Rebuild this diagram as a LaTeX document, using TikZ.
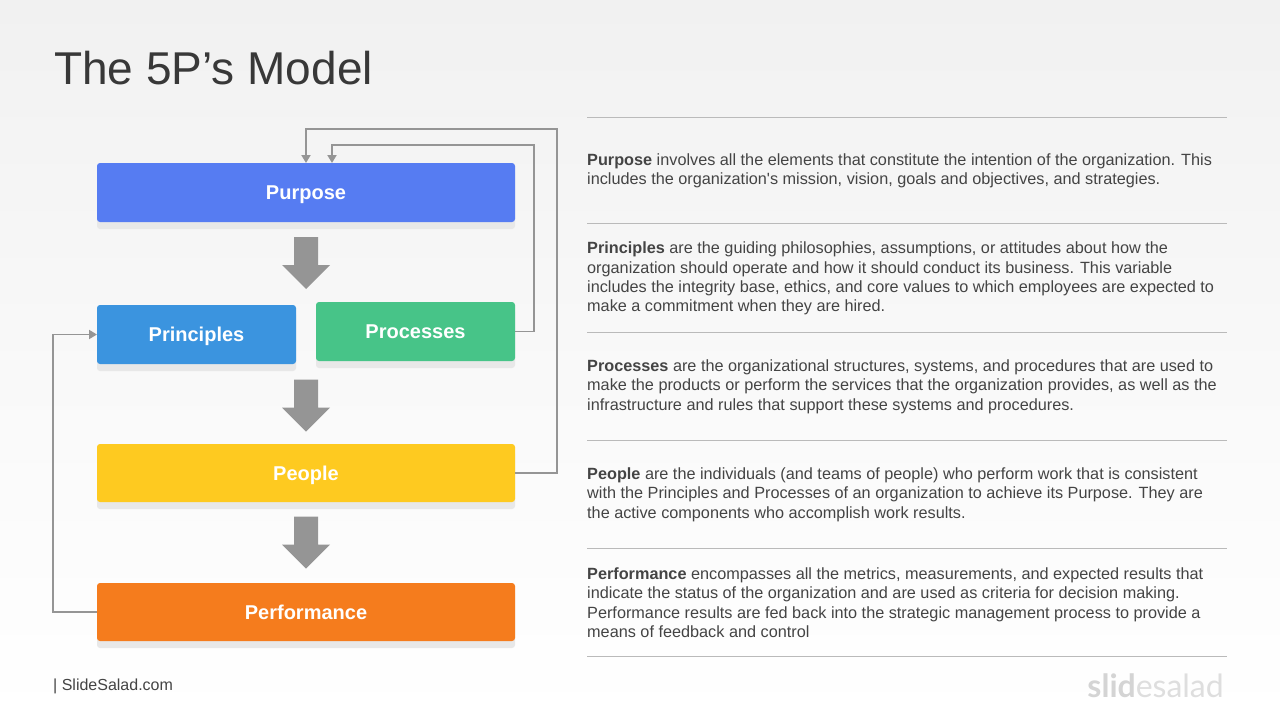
\documentclass[tikz,border=0pt]{standalone}
\usepackage{fontspec}
\setmainfont{Liberation Sans}
\newfontfamily\notefont{Liberation Sans}[Mapping=,Ligatures=NoCommon]
\newfontfamily\logofont{Lato}
\usetikzlibrary{arrows.meta,shadows}
\definecolor{purposeblue}{HTML}{567CF2}
\definecolor{principleblue}{HTML}{3B94DF}
\definecolor{processgreen}{HTML}{47C488}
\definecolor{peopleyellow}{HTML}{FECA20}
\definecolor{performanceorange}{HTML}{F57C1D}
\definecolor{pagetop}{HTML}{F1F1F1}
\definecolor{bodytext}{HTML}{444444}
\definecolor{arrowgray}{HTML}{959595}
\tikzset{
  stagebox/.style={rectangle, rounded corners=3pt, minimum height=59pt, text=white,
                   inner sep=0pt, outer sep=0pt, anchor=center,
                   text height=14.5pt, text depth=0pt,
                   font=\fontsize{20}{24}\selectfont\bfseries,
                   general shadow={fill=black!9, shadow xshift=0pt, shadow yshift=-7pt}},
  flowarrow/.pic={\fill [arrowgray] (-12,0) -- (-12,28) -- (-24,28) -- (0,52) -- (24,28) -- (12,28) -- (12,0) -- cycle;},
  feedback/.style={draw=arrowgray, line width=1.9pt, -{Triangle[length=8pt,width=9pt]}},
  ruleline/.style={draw=black!27, line width=0.8pt},
  note/.style={anchor=west, align=left, inner sep=0pt, text=bodytext,
               font=\notefont\fontsize{16.25}{19.4}\selectfont},
}
\begin{document}
\begin{tikzpicture}[x=1pt,y=-1pt]
\shade[top color=pagetop, bottom color=white, middle color=pagetop!45] (0,0) rectangle (1280,720);
\useasboundingbox (0,0) rectangle (1280,720);

\node [anchor=west, inner sep=0pt, text=black!78, font=\fontsize{46}{50}\selectfont] (title) at (54,68) {The 5P’s Model};

\node [stagebox, fill=purposeblue, minimum width=418pt] (purpose) at (306,192.5) {Purpose};
\node [stagebox, fill=principleblue, minimum width=199pt] (principles) at (196.5,334.5) {Principles};
\node [stagebox, fill=processgreen, minimum width=199pt] (processes) at (415.5,331.5) {Processes};
\node [stagebox, fill=peopleyellow, minimum width=418pt, minimum height=58pt] (people) at (306,473) {People};
\node [stagebox, fill=performanceorange, minimum width=418pt, minimum height=58pt] (performance) at (306,612) {Performance};

\pic (arrowa) at (306,237) {flowarrow};
\pic (arrowb) at (306,379.5) {flowarrow};
\pic (arrowc) at (306,516.5) {flowarrow};

%feedback loops
\coordinate (procturn) at (534,145);
\coordinate (procin) at (332,163);
\coordinate (peopleturn) at (557,129);
\coordinate (perfturn) at (53,334.5);
\draw [feedback] (processes.east) -| (procturn) -| (procin);
\draw [feedback] (people.east) -| (peopleturn) -| (purpose.north);
\draw [feedback] (performance.west) -| (perfturn) -- (principles.west);

\foreach \ypos in {117,223,332,440,548,656}
  \draw [ruleline] (587,\ypos) -- (1227,\ypos);

\node [note] (purposenote) at (587,171) {\textbf{Purpose} involves all the elements that constitute the intention of the organization. This\\
includes the organization's mission, vision, goals and objectives, and strategies.};
\node [note] (principlesnote) at (587,278.5) {\textbf{Principles} are the guiding philosophies, assumptions, or attitudes about how the\\
organization should operate and how it should conduct its business. This variable\\
includes the integrity base, ethics, and core values to which employees are expected to\\
make a commitment when they are hired.};
\node [note] (processesnote) at (587,386.5) {\textbf{Processes} are the organizational structures, systems, and procedures that are used to\\
make the products or perform the services that the organization provides, as well as the\\
infrastructure and rules that support these systems and procedures.};
\node [note] (peoplenote) at (587,494.5) {\textbf{People} are the individuals (and teams of people) who perform work that is consistent\\
with the Principles and Processes of an organization to achieve its Purpose. They are\\
the active components who accomplish work results.};
\node [note] (performancenote) at (587,602.5) {\textbf{Performance} encompasses all the metrics, measurements, and expected results that\\
indicate the status of the organization and are used as criteria for decision making.\\
Performance results are fed back into the strategic management process to provide a\\
means of feedback and control};

\node [anchor=west, inner sep=0pt, text=bodytext, font=\fontsize{16}{19}\selectfont] (footer) at (53,686) {| SlideSalad.com};
\node [anchor=east, inner sep=0pt, font=\fontsize{32}{36}\logofont] (logo) at (1224,685.5) {\textcolor{black!17}{\bfseries slid}\textcolor{black!13}{esalad}};
\end{tikzpicture}
\end{document}
